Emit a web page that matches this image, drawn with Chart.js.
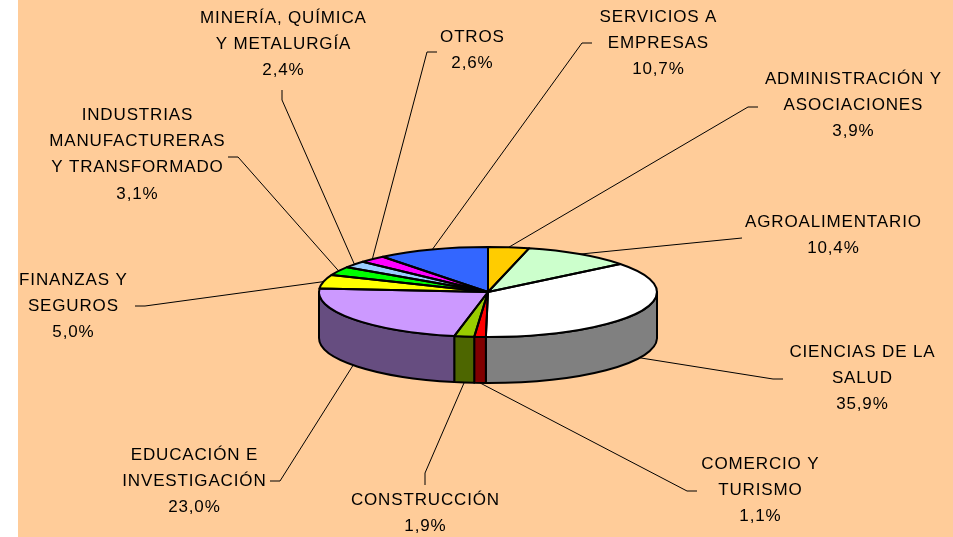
<!DOCTYPE html>
<html>
<head>
<meta charset="utf-8">
<script src="https://cdn.jsdelivr.net/npm/chart.js@4"></script>
<style>
    body { margin: 0; background: #fff; }
    canvas { display: block; }
</style>
</head>
<body>
<canvas id="sectoresChart" width="953" height="537"></canvas>
<script>
// Datos de la grafica (sentido horario desde arriba)
var sectores = [
    ['ADMINISTRACIÓN Y', 'ASOCIACIONES'],
    ['AGROALIMENTARIO'],
    ['CIENCIAS DE LA', 'SALUD'],
    ['COMERCIO Y', 'TURISMO'],
    ['CONSTRUCCIÓN'],
    ['EDUCACIÓN E', 'INVESTIGACIÓN'],
    ['FINANZAS Y', 'SEGUROS'],
    ['INDUSTRIAS', 'MANUFACTURERAS', 'Y TRANSFORMADO'],
    ['MINERÍA, QUÍMICA', 'Y METALURGÍA'],
    ['OTROS'],
    ['SERVICIOS A', 'EMPRESAS']
];
var porcentajes = [3.9, 10.4, 35.9, 1.1, 1.9, 23.0, 5.0, 3.1, 2.4, 2.6, 10.7];
var colores = ['#FFCC00', '#CCFFCC', '#FFFFFF', '#FF0000', '#99CC00', '#CC99FF',
               '#FFFF00', '#00FF00', '#99CCFF', '#FF00FF', '#3366FF'];

// Posicion de las etiquetas (centro x, primera linea y) y codos de las lineas guia
var posEtiquetas = [[853, 79], [833, 222], [862, 352], [760, 464], [425, 500], [194, 455],
                    [73, 280], [137, 115], [283, 18], [472, 37], [658, 17]];
var guias = [
    [[758, 107], [748, 107]],
    [[742, 238]],
    [[783, 379], [773, 379]],
    [[697, 491], [687, 491]],
    [[425, 485], [425, 473]],
    [[270, 481], [280, 481]],
    [[135, 306], [145, 306]],
    [[228, 157], [238, 157]],
    [[282, 90], [282, 100]],
    [[437, 52], [427, 52]],
    [[592, 43], [582, 43]]
];

var ALTO_ELIPSE = 45;  // semieje vertical de la cara superior
var GROSOR = 46;       // altura del cilindro

function oscurecer(hex) {
    var r = Math.round(parseInt(hex.substr(1, 2), 16) * 0.5);
    var g = Math.round(parseInt(hex.substr(3, 2), 16) * 0.5);
    var b = Math.round(parseInt(hex.substr(5, 2), 16) * 0.5);
    return 'rgb(' + r + ',' + g + ',' + b + ')';
}

var pastel3d = {
    id: 'pastel3d',
    beforeDraw: function (chart) {
        var ctx = chart.ctx;
        ctx.save();
        ctx.fillStyle = '#fff';
        ctx.fillRect(0, 0, chart.width, chart.height);
        ctx.fillStyle = '#FFCC99';
        ctx.fillRect(18, 0, chart.width - 18, chart.height);
        ctx.restore();
    },
    beforeDatasetsDraw: function (chart) {
        var ctx = chart.ctx;
        var arcs = chart.getDatasetMeta(0).data;
        var cx = arcs[0].x, cy = arcs[0].y, R = arcs[0].outerRadius, r = ALTO_ELIPSE;
        // paredes laterales visibles (mitad frontal)
        arcs.forEach(function (arc, i) {
            var a1 = Math.max(arc.startAngle, 0);
            var a2 = Math.min(arc.endAngle, Math.PI);
            if (a2 <= a1) return;
            ctx.save();
            ctx.beginPath();
            ctx.ellipse(cx, cy, R, r, 0, a1, a2);
            ctx.lineTo(cx + R * Math.cos(a2), cy + r * Math.sin(a2) + GROSOR);
            ctx.ellipse(cx, cy + GROSOR, R, r, 0, a2, a1, true);
            ctx.closePath();
            ctx.fillStyle = oscurecer(colores[i]);
            ctx.fill();
            ctx.lineWidth = 2;
            ctx.lineJoin = 'round';
            ctx.strokeStyle = '#000';
            ctx.stroke();
            ctx.restore();
        });
        // aplastar la cara superior
        ctx.save();
        ctx.translate(cx, cy);
        ctx.scale(1, r / R);
        ctx.translate(-cx, -cy);
    },
    afterDatasetsDraw: function (chart) {
        var ctx = chart.ctx;
        ctx.restore();
        var arcs = chart.getDatasetMeta(0).data;
        var cx = arcs[0].x, cy = arcs[0].y, R = arcs[0].outerRadius, r = ALTO_ELIPSE;

        ctx.save();
        ctx.lineWidth = 2;
        ctx.lineJoin = 'round';
        ctx.strokeStyle = '#000';
        arcs.forEach(function (arc) {
            ctx.beginPath();
            ctx.moveTo(cx, cy);
            ctx.ellipse(cx, cy, R, r, 0, arc.startAngle, arc.endAngle);
            ctx.closePath();
            ctx.stroke();
        });

        // lineas guia
        ctx.lineWidth = 1;
        arcs.forEach(function (arc, i) {
            var m = (arc.startAngle + arc.endAngle) / 2;
            var px = cx + R * Math.cos(m);
            var py = cy + r * Math.sin(m) + (Math.sin(m) > 0 ? GROSOR : 0);
            ctx.beginPath();
            ctx.moveTo(guias[i][0][0], guias[i][0][1]);
            for (var k = 1; k < guias[i].length; k++) {
                ctx.lineTo(guias[i][k][0], guias[i][k][1]);
            }
            ctx.lineTo(px, py);
            ctx.stroke();
        });

        // etiquetas
        ctx.fillStyle = '#000';
        ctx.font = '17px "Liberation Sans", Arial, sans-serif';
        ctx.letterSpacing = '0.85px';
        ctx.textAlign = 'center';
        ctx.textBaseline = 'middle';
        sectores.forEach(function (lineas, i) {
            var textos = lineas.concat([porcentajes[i].toFixed(1).replace('.', ',') + '%']);
            textos.forEach(function (t, k) {
                ctx.fillText(t, posEtiquetas[i][0] + 0.4, posEtiquetas[i][1] + k * 26.3);
            });
        });
        ctx.restore();
    }
};

var sectoresCtx = document.getElementById('sectoresChart');
var config = {
    type: 'pie',
    data: {
        labels: sectores.map(function (l) { return l.join(' '); }),
        datasets: [{
            data: porcentajes,
            backgroundColor: colores,
            borderWidth: 0,
            clip: false
        }]
    },
    options: {
        responsive: false,
        animation: false,
        layout: {
            padding: { left: 319, right: 296, top: 123, bottom: 76 }
        },
        plugins: {
            legend: { display: false },
            tooltip: { enabled: false }
        }
    },
    plugins: [pastel3d]
};
window.myPie = new Chart(sectoresCtx, config);
</script>
</body>
</html>
